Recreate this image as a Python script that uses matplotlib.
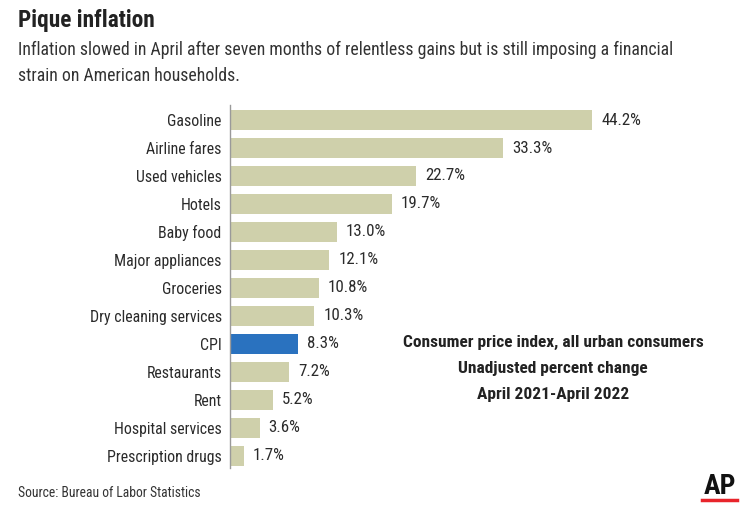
import matplotlib
matplotlib.use("Agg")
import matplotlib.pyplot as plt
from matplotlib.lines import Line2D
from matplotlib.font_manager import fontManager, FontProperties
from matplotlib.textpath import TextPath

categories = ["Gasoline", "Airline fares", "Used vehicles", "Hotels", "Baby food",
              "Major appliances", "Groceries", "Dry cleaning services", "CPI",
              "Restaurants", "Rent", "Hospital services", "Prescription drugs"]
values = [44.2, 33.3, 22.7, 19.7, 13.0, 12.1, 10.8, 10.3, 8.3, 7.2, 5.2, 3.6, 1.7]
labels = ["44.2%", "33.3%", "22.7%", "19.7%", "13.0%", "12.1%", "10.8%", "10.3%",
          "8.3%", "7.2%", "5.2%", "3.6%", "1.7%"]

names = {f.name for f in fontManager.ttflist}
FONT_NAME = "Lato"
for cand in ["Liberation Sans Narrow", "Roboto Condensed", "Open Sans Condensed",
             "DejaVu Sans Condensed", "Noto Sans Condensed", "Lato", "Roboto"]:
    if cand in names:
        FONT_NAME = cand
        break
FONT = [FONT_NAME, "DejaVu Sans"]


def fit(text, px, weight="normal"):
    fp = FontProperties(family=FONT, weight=weight)
    w = TextPath((0, 0), text, size=100, prop=fp).get_extents().width
    return 100 * px * 0.72 / w


BEIGE = "#cfd0ab"
BLUE = "#2a72bf"
TXT = "#2b2b2b"

W, H = 749, 513
fig = plt.figure(figsize=(W / 100, H / 100), dpi=100)
fig.patch.set_facecolor("white")

left_px, right_px = 230, 749
top_px, bot_px = 105, 468
ax = fig.add_axes([left_px / W, 1 - bot_px / H, (right_px - left_px) / W, (bot_px - top_px) / H])
ax.set_facecolor("none")

colors = [BLUE if c == "CPI" else BEIGE for c in categories]
ypos = list(range(len(categories)))
ax.barh(ypos, values, height=0.74, color=colors, left=0)
ax.set_xlim(0, (right_px - left_px) / 8.2)
ax.set_ylim(12.43, -0.536)

fs_lab = fit("Gasoline", 53)
fs_val = fit("44.2%", 39)
for y, v, lab in zip(ypos, values, labels):
    ax.annotate(lab, (v, y), xytext=(6.5, 0), textcoords="offset points",
                ha="left", va="center", fontsize=fs_val, family=FONT, color=TXT)

ax.set_yticks(ypos)
ax.set_yticklabels(categories, family=FONT, fontsize=fs_lab, color=TXT)
ax.tick_params(axis="y", length=0, pad=6)
ax.set_xticks([])
for s in ["top", "right", "bottom"]:
    ax.spines[s].set_visible(False)
ax.spines["left"].set_color("#9a9a9a")
ax.spines["left"].set_linewidth(1.0)

# Titles
fig.text(18 / W, 1 - 20 / H, "Pique inflation", family=FONT,
         fontsize=fit("Pique inflation", 134, "bold"),
         fontweight="bold", color="#222222", ha="left", va="center")
sub1 = "Inflation slowed in April after seven months of relentless gains but is still imposing a financial"
fs_sub = fit(sub1, 651)
fig.text(18 / W, 1 - 50 / H, sub1, family=FONT, fontsize=fs_sub, color="#333333",
         ha="left", va="center")
fig.text(18 / W, 1 - 76 / H, "strain on American households.",
         family=FONT, fontsize=fs_sub, color="#333333", ha="left", va="center")

# Annotation
ann = ["Consumer price index, all urban consumers", "Unadjusted percent change",
       "April 2021-April 2022"]
fs_ann = fit(ann[0], 300, "bold")
for yy, t in zip([342, 369, 395], ann):
    fig.text(553 / W, 1 - yy / H, t, family=FONT, fontsize=fs_ann, fontweight="bold",
             color="#222222", ha="center", va="center")

# Source
src = "Source: Bureau of Labor Statistics"
fig.text(18 / W, 1 - 493 / H, src, family=FONT, fontsize=fit(src, 182),
         color="#333333", ha="left", va="center")

# AP logo
fig.text(720 / W, 1 - 486 / H, "AP", family=FONT, fontsize=fit("AP", 31, "bold"),
         fontweight="bold", color="#111111", ha="center", va="center")
fig.add_artist(Line2D([702 / W, 737 / W], [1 - 500 / H, 1 - 500 / H],
                      transform=fig.transFigure, color="#e8242b", linewidth=2.5))

fig.savefig("out.png", dpi=100, facecolor="white")
